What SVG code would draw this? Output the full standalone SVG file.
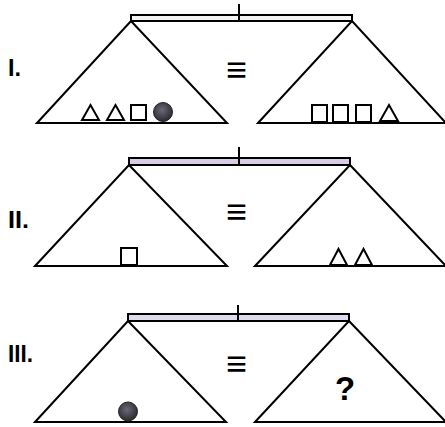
<svg xmlns="http://www.w3.org/2000/svg" width="445" height="427" viewBox="0 0 445 427">
<defs>
<radialGradient id="ball" cx="0.45" cy="0.4" r="0.6">
<stop offset="0" stop-color="#6a6a78"/>
<stop offset="1" stop-color="#2a2a30"/>
</radialGradient>
</defs>
<style>
.pan{fill:none;stroke:#000;stroke-width:2;stroke-linejoin:miter}
.bar{stroke:#000;stroke-width:2}
.tick{stroke:#000;stroke-width:2}
.shp{fill:#fff;stroke:#000;stroke-width:2}
.ball{fill:url(#ball);stroke:#222;stroke-width:1}
.lbl{font-family:"Liberation Sans",Arial,sans-serif;font-weight:bold;fill:#000}
.num{font-size:23px}
</style>
<rect width="445" height="427" fill="#fff"/>
<g id="panel1">
<rect class="bar" x="131" y="15" width="221" height="6" fill="#f4f4f6"/>
<path class="pan" d="M37,123 L131,21 L227,123 Z"/>
<path class="pan" d="M258,123 L352,21 L446,123 Z"/>
<text class="lbl num" x="8" y="76" textLength="13" lengthAdjust="spacingAndGlyphs">I.</text>
<text class="lbl" x="236.5" y="82" font-size="36" text-anchor="middle">≡</text>
<path class="shp" d="M82,120 L90.5,105 L99,120 Z"/>
<path class="shp" d="M107,120 L115.5,105 L124,120 Z"/>
<rect class="shp" x="131" y="105" width="15" height="15"/>
<circle class="ball" cx="163" cy="112" r="9.5"/>
<rect class="shp" x="312" y="105" width="15" height="17"/>
<rect class="shp" x="333" y="105" width="15" height="17"/>
<rect class="shp" x="356" y="105" width="15" height="17"/>
<path class="shp" d="M380,121 L389,105 L398,121 Z"/>
</g>
<g id="panel2">
<rect class="bar" x="129" y="158" width="221" height="7" fill="#d9cde6"/>
<path class="pan" d="M35,266 L129,165 L227,266 Z"/>
<path class="pan" d="M255,266 L350,165 L446,266 Z"/>
<text class="lbl num" x="8" y="228" textLength="21" lengthAdjust="spacingAndGlyphs">II.</text>
<text class="lbl" x="236.5" y="224" font-size="36" text-anchor="middle">≡</text>
<rect class="shp" x="121" y="248" width="16" height="17"/>
<path class="shp" d="M330,265 L338.5,249 L347,265 Z"/>
<path class="shp" d="M355,265 L363.5,249 L372,265 Z"/>
</g>
<g id="panel3">
<rect class="bar" x="128" y="314" width="221" height="7" fill="#dddbec"/>
<path class="pan" d="M35,422 L128,321 L226,422 Z"/>
<path class="pan" d="M255,422 L349,321 L446,422 Z"/>
<text class="lbl num" x="8" y="362" textLength="25" lengthAdjust="spacingAndGlyphs">III.</text>
<text class="lbl" x="236.5" y="376" font-size="36" text-anchor="middle">≡</text>
<text class="lbl" x="345" y="400" font-size="33" text-anchor="middle">?</text>
<circle class="ball" cx="128" cy="411.5" r="9.5"/>
</g>
<g id="connectors">
<line class="tick" x1="239" y1="4" x2="239" y2="21"/>
<line class="tick" x1="239" y1="147" x2="239" y2="165"/>
<line class="tick" x1="238" y1="305" x2="238" y2="321"/>
</g>
</svg>
